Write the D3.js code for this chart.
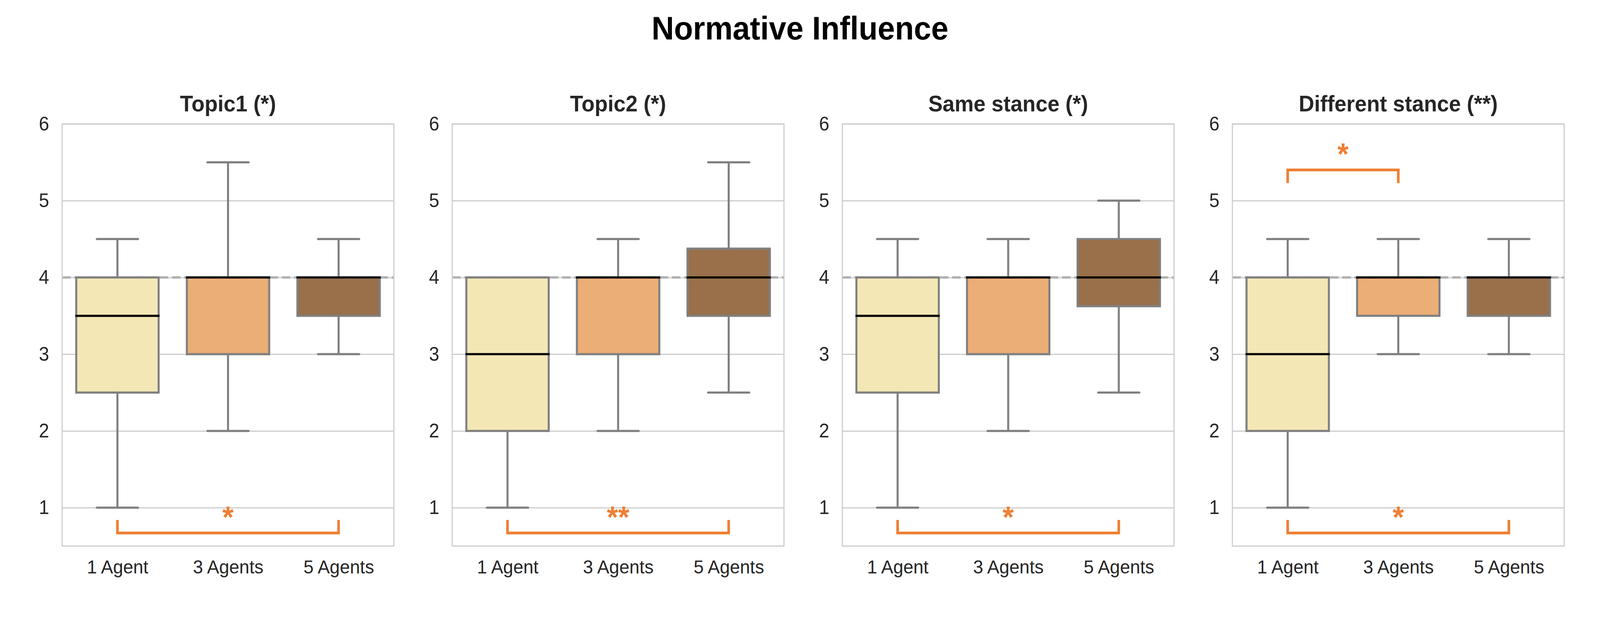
<!DOCTYPE html>
<html>
<head>
<meta charset="utf-8">
<script src="https://cdn.jsdelivr.net/npm/d3@7"></script>
<style>
  html, body { margin: 0; padding: 0; background: #ffffff; width: 100%; height: 100%; overflow: hidden; }
  svg { display: block; width: 100vw; height: 100vh; }
  text { font-family: "Liberation Sans", Arial, Helvetica, sans-serif; }
</style>
</head>
<body>
<script>
// ---------------- data ----------------
const categories   = ["1 Agent", "3 Agents", "5 Agents"];
const panelTitles  = ["Topic1 (*)", "Topic2 (*)", "Same stance (*)", "Different stance (**)"];
const whiskerLow   = [[1, 2, 3],     [1, 2, 2.5],     [1, 2, 2.5],     [1, 3, 3]];
const quartile1    = [[2.5, 3, 3.5], [2, 3, 3.5],     [2.5, 3, 3.625], [2, 3.5, 3.5]];
const medians      = [[3.5, 4, 4],   [3, 4, 4],       [3.5, 4, 4],     [3, 4, 4]];
const quartile3    = [[4, 4, 4],     [4, 4, 4.375],   [4, 4, 4.5],     [4, 4, 4]];
const whiskerHigh  = [[4.5, 5.5, 4.5], [4, 4.5, 5.5], [4.5, 4.5, 5],   [4.5, 4.5, 4.5]];
const yTicks       = [1, 2, 3, 4, 5, 6];
const yDomain      = [0.5, 6];
const referenceValue = 4;
// significance brackets: panel, from category, to category, label, line value, tip value
const sigPanel  = [0, 1, 2, 3, 3];
const sigFrom   = [0, 0, 0, 0, 0];
const sigTo     = [2, 2, 2, 1, 2];
const sigLabel  = ["*", "**", "*", "*", "*"];
const sigLine   = [0.67, 0.67, 0.67, 5.40, 0.67];
const sigTip    = [0.84, 0.84, 0.84, 5.23, 0.84];
const mainTitle = "Normative Influence";

// ---------------- layout / style ----------------
const W = 4326, H = 1581;
const plotW = 897, plotTop = 317, plotBottom = 1397;
const panelLeft0 = 168, panelStep = 1054.7;
const boxColors = ["#F4E7B6", "#EBAE76", "#99704A"];
const edgeColor = "#808080";
const gridColor = "#cccccc";
const sigColor = "#EE7F33";
const textColor = "#262626";

const svg = d3.select("body").append("svg")
  .attr("viewBox", `0 0 ${W} ${H}`)
  .attr("preserveAspectRatio", "none");

svg.append("rect").attr("width", W).attr("height", H).attr("fill", "#ffffff");

svg.append("text")
  .attr("x", W / 2).attr("y", 101)
  .attr("text-anchor", "middle")
  .attr("font-size", 84).attr("font-weight", "bold")
  .attr("fill", "#000000")
  .text(mainTitle);

const x = d3.scalePoint().domain(categories).range([0, plotW]).padding(0.5);
const band = plotW / categories.length;
const boxW = band * 0.745;
const capW = boxW / 2;
const y = d3.scaleLinear().domain(yDomain).range([plotBottom - plotTop, 0]);
const plotH = plotBottom - plotTop;

panelTitles.forEach((title, p) => {
  const g = svg.append("g")
    .attr("transform", `translate(${panelLeft0 + p * panelStep},${plotTop})`);

  // y grid + labels
  const yAxis = d3.axisLeft(y).tickValues(yTicks).tickSize(-plotW).tickPadding(35)
    .tickFormat(d3.format("d"));
  const ya = g.append("g").call(yAxis);
  ya.select(".domain").remove();
  ya.selectAll(".tick line").attr("stroke", gridColor).attr("stroke-width", 3);
  ya.selectAll(".tick text").attr("fill", textColor).attr("font-size", 50)
    .attr("font-family", "'Liberation Sans', Arial, sans-serif");

  // x labels
  const xAxis = d3.axisBottom(x).tickSize(0).tickPadding(35);
  const xa = g.append("g").attr("transform", `translate(0,${plotH})`).call(xAxis);
  xa.select(".domain").remove();
  xa.selectAll(".tick text").attr("fill", textColor).attr("font-size", 49)
    .attr("font-family", "'Liberation Sans', Arial, sans-serif");

  // reference dashed line
  g.append("line")
    .attr("x1", 0).attr("x2", plotW)
    .attr("y1", y(referenceValue)).attr("y2", y(referenceValue))
    .attr("stroke", "#b0b0b0").attr("stroke-width", 6)
    .attr("stroke-dasharray", "23,10");

  // boxes
  categories.forEach((c, i) => {
    const cx = x(c);
    const lo = whiskerLow[p][i], q1 = quartile1[p][i], med = medians[p][i],
          q3 = quartile3[p][i], hi = whiskerHigh[p][i];
    const bg = g.append("g");
    bg.append("line").attr("x1", cx).attr("x2", cx).attr("y1", y(q1)).attr("y2", y(lo))
      .attr("stroke", edgeColor).attr("stroke-width", 5.5);
    bg.append("line").attr("x1", cx).attr("x2", cx).attr("y1", y(q3)).attr("y2", y(hi))
      .attr("stroke", edgeColor).attr("stroke-width", 5.5);
    [lo, hi].forEach(v => {
      bg.append("line").attr("x1", cx - capW / 2).attr("x2", cx + capW / 2)
        .attr("y1", y(v)).attr("y2", y(v))
        .attr("stroke", edgeColor).attr("stroke-width", 5.5)
        .attr("stroke-linecap", "round");
    });
    bg.append("rect")
      .attr("x", cx - boxW / 2).attr("width", boxW)
      .attr("y", y(q3)).attr("height", Math.max(0, y(q1) - y(q3)))
      .attr("fill", boxColors[i]).attr("stroke", edgeColor).attr("stroke-width", 5.5);
    bg.append("line").attr("x1", cx - boxW / 2 - 2.5).attr("x2", cx + boxW / 2 + 2.5)
      .attr("y1", y(med)).attr("y2", y(med))
      .attr("stroke", "#000000").attr("stroke-width", 5.5);
  });

  // border
  g.append("rect").attr("x", 0).attr("y", 0).attr("width", plotW).attr("height", plotH)
    .attr("fill", "none").attr("stroke", gridColor).attr("stroke-width", 3);

  // title
  g.append("text")
    .attr("x", plotW / 2).attr("y", 285 - plotTop)
    .attr("text-anchor", "middle")
    .attr("font-size", 58).attr("font-weight", "bold")
    .attr("fill", textColor)
    .text(title);

  // significance
  sigPanel.forEach((sp, k) => {
    if (sp !== p) return;
    const x1 = x(categories[sigFrom[k]]), x2 = x(categories[sigTo[k]]);
    const yl = y(sigLine[k]), yt = y(sigTip[k]);
    g.append("path")
      .attr("d", `M${x1},${yt}L${x1},${yl}L${x2},${yl}L${x2},${yt}`)
      .attr("fill", "none").attr("stroke", sigColor).attr("stroke-width", 7);
    g.append("text")
      .attr("x", (x1 + x2) / 2).attr("y", yl - 14)
      .attr("text-anchor", "middle")
      .attr("font-size", 78).attr("font-weight", "bold")
      .attr("fill", sigColor)
      .text(sigLabel[k]);
  });
});
</script>
</body>
</html>
